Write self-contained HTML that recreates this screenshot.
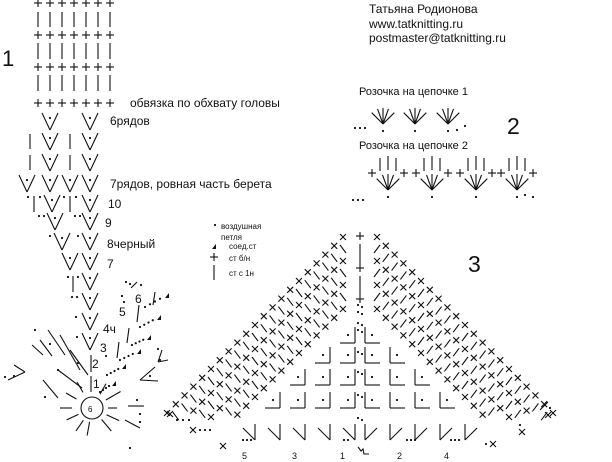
<!DOCTYPE html>
<html><head><meta charset="utf-8">
<style>
html,body{margin:0;padding:0;background:#fff;}
body{width:612px;height:462px;overflow:hidden;position:relative;font-family:"Liberation Sans",sans-serif;}
svg{position:absolute;left:0;top:0;}
text{font-family:"Liberation Sans",sans-serif;fill:#111;}
</style></head>
<body>
<svg id="s" width="612" height="462" viewBox="0 0 612 462" stroke="#111" stroke-width="1.1" fill="none">
<g stroke="none">
<text x="369" y="13" font-size="12">Татьяна Родионова</text>
<text x="369" y="28" font-size="12">www.tatknitting.ru</text>
<text x="369" y="42" font-size="12">postmaster@tatknitting.ru</text>
<text x="2" y="66" font-size="22">1</text>
<text x="507" y="134" font-size="23">2</text>
<text x="468" y="272" font-size="23">3</text>
<text x="130" y="107" font-size="12">обвязка по обхвату головы</text>
<text x="110" y="125" font-size="12">6рядов</text>
<text x="110" y="188" font-size="12">7рядов, ровная часть берета</text>
<text x="108" y="208" font-size="12">10</text>
<text x="105" y="227" font-size="12">9</text>
<text x="107" y="248" font-size="12">8черный</text>
<text x="107" y="268" font-size="12">7</text>
<text x="103" y="333" font-size="12">4ч</text>
<text x="119" y="316" font-size="12">5</text>
<text x="135" y="303" font-size="12">6</text>
<text x="100" y="352" font-size="12">3</text>
<text x="92" y="368" font-size="12">2</text>
<text x="93" y="388" font-size="12">1</text>
<text x="88" y="412" font-size="8">6</text>
<text x="359" y="95" font-size="11">Розочка на цепочке 1</text>
<text x="359" y="149" font-size="11">Розочка на цепочке 2</text>
<text x="221" y="229" font-size="8">воздушная</text>
<text x="221" y="240" font-size="8">петля</text>
<text x="229" y="249" font-size="8">соед.ст</text>
<text x="229" y="261" font-size="8">ст б/н</text>
<text x="229" y="276" font-size="8">ст с 1н</text>
<text x="242" y="459" font-size="9">5</text>
<text x="292" y="459" font-size="9">3</text>
<text x="340" y="459" font-size="9">1</text>
<text x="397" y="459" font-size="9">2</text>
<text x="444" y="459" font-size="9">4</text>
</g>
<g id="g"></g>
</svg>
<script>
var g=document.getElementById('g'),h='';
function L(a,b,c,d){h+='<line x1="'+a+'" y1="'+b+'" x2="'+c+'" y2="'+d+'"/>';}
function D(x,y,r){h+='<circle cx="'+x+'" cy="'+y+'" r="'+(r||1.1)+'" fill="#111" stroke="none"/>';}
function P(x,y,s){s=s||4;L(x-s,y,x+s,y);L(x,y-s,x,y+s);}
function X(x,y){L(x-3,y-3,x+3,y+3);L(x-3,y+3,x+3,y-3);}
function V(x,y,hh){hh=hh||17;L(x-8,y,x,y+hh);L(x,y+hh,x+8,y);D(x,y+5);}
function B(x,y,hh){L(x,y,x,y+(hh||15));}
function T(x,y){h+='<path d="M'+(x-2)+' '+(y+2)+' L'+(x+2)+' '+(y-3)+' L'+(x+2)+' '+(y+2)+'Z" fill="#111" stroke="none"/>';}
var xs=[38,50,62,74,86,98,110];
[3,35,67,103].forEach(function(y){xs.forEach(function(x){P(x,y);});});
[[12,27],[43,59],[75,91]].forEach(function(r){xs.forEach(function(x){L(x,r[0],x,r[1]);});});
V(50,113);V(90,113);
[133,154].forEach(function(y){B(30,y+1);B(70,y+1);V(50,y);V(90,y);});
V(27,175);V(50,175);V(70,175);V(90,175);
D(28,197);B(34,196,16);D(40,197);V(52,195);D(64,197);B(70,196,16);D(76,197);V(90,195);
D(39,216);D(44,216);V(55,213);D(75,216);D(80,216);V(90,213);
D(50,236);V(62,233);D(78,236);V(90,233);
V(70,253);V(90,253);
D(68,277);B(73,276,16);D(78,277);V(90,273);
D(72,297);D(77,297);V(90,293);
D(76,317);V(90,313);
D(77,337);V(90,333);
B(91,355,17);D(106,356);B(91,376,16);
h+='<circle cx="92" cy="408" r="11"/>';
[[0,16,25],[25,16,30],[50,15,30],[100,14,28],[125,15,28],[155,15,28],[180,20,32],[210,18,30],[240,18,30],[300,16,28],[330,16,33]].forEach(function(a){var r=a[0]*Math.PI/180;L(92+a[1]*Math.cos(r),408+a[1]*Math.sin(r),92+a[2]*Math.cos(r),408+a[2]*Math.sin(r));});
L(128,406,144,406);L(125,420,140,428);D(140,422);D(130,448);D(45,397);D(58,370);D(78,363);D(137,400);D(140,414);
L(43,380,58,398);L(58,370,82,388);L(70,350,88,375);L(48,330,65,355);L(60,335,80,370);
L(8,380,25,372);L(14,365,25,372);D(14,376);D(5,377);L(40,340,52,356);L(32,345,43,355);D(50,344);D(35,330);
L(140,380,155,367);L(140,380,158,381);D(150,376);L(158,362,168,360);L(158,362,162,350);D(160,360);D(158,349);
// slanted columns
[[100,392,112,384],[107,375,122,367],[120,360,137,352],[132,345,147,338],[140,327,157,318],[145,307,165,296]].forEach(function(r){for(var i=0;i<4;i++){D(r[0]+(r[2]-r[0])*i/4,r[1]+(r[3]-r[1])*i/4);}T(r[2]+2,r[3]);});
L(117,358,119,342);L(127,343,129,328);L(137,322,139,305);L(153,305,155,292);
D(130,284);D(126,282);L(131,288,137,282);D(141,285);D(124,302);D(122,296);
D(215,225);T(214,247);P(214,257);L(214,265,214,280);
function F(cx,by){[225,250,270,290,315].forEach(function(a){var r=a*Math.PI/180;L(cx,by,cx+16*Math.cos(r),by+16*Math.sin(r));});D(cx,by+7);}
F(383,124);F(415,124);F(448,124);D(355,128);D(360,128);D(365,128);D(457,130);D(465,126);
D(353,200);D(358,200);D(363,200);
[388,432,476,517].forEach(function(cx){F(cx,190);B(cx-8,158,13);B(cx,156,14);B(cx+8,158,13);P(cx-16,173);P(cx+16,173);});
D(525,195);D(533,197);
P(360,236);L(360,244,360,265);P(360,268);L(360,276,360,296);P(360,299);
(function(){
 for(var d=0;d<=72;d+=12){for(var y=237+d;y<=418;y+=8.8){var xl=343-(y-237)+d, xr=377+(y-237)-d;
  if(d%24==0){X(xl,y);X(xr,y);}else{L(xl-3,y-4,xl+3,y+4);L(xr-3,y+4,xr+3,y-4);}}}
})();
var rows=[[343,1],[363,2],[385,3],[408,4]];
rows.forEach(function(r){var y=r[0];for(var j=0;j<r[1];j++){var xl=355-j*25,xr=365+j*25;L(xl,y-16,xl,y);L(xl-15,y,xl,y);D(xl-7,y-8);L(xr,y-16,xr,y);L(xr,y,xr+15,y);D(xr+7,y-8);}});
for(var j=0;j<5;j++){var xl=355-j*25,xr=365+j*25,y=440;L(xl,y-16,xl,y);L(xl-12,y-12,xl,y);L(xr,y-16,xr,y);L(xr,y,xr+12,y-12);}
[305,312,323,330,352,372,395,418].forEach(function(y){D(358,y);D(362,y+2);});
D(243,440);D(247,440);D(251,440);D(344,440);D(348,440);D(407,440);D(411,440);D(415,440);D(451,440);D(455,440);D(459,440);
X(223,446);X(193,430);D(200,430);D(205,430);D(210,430);X(170,414);D(177,420);D(183,420);D(189,420);
X(493,444);D(486,444);X(522,432);X(548,415);D(550,408);L(540,410,548,402);D(520,425);
h+='<path d="M358 447 l3 4 l2 -2 l1 5 l5 0"/>';
g.innerHTML=h;
</script>
</body></html>
